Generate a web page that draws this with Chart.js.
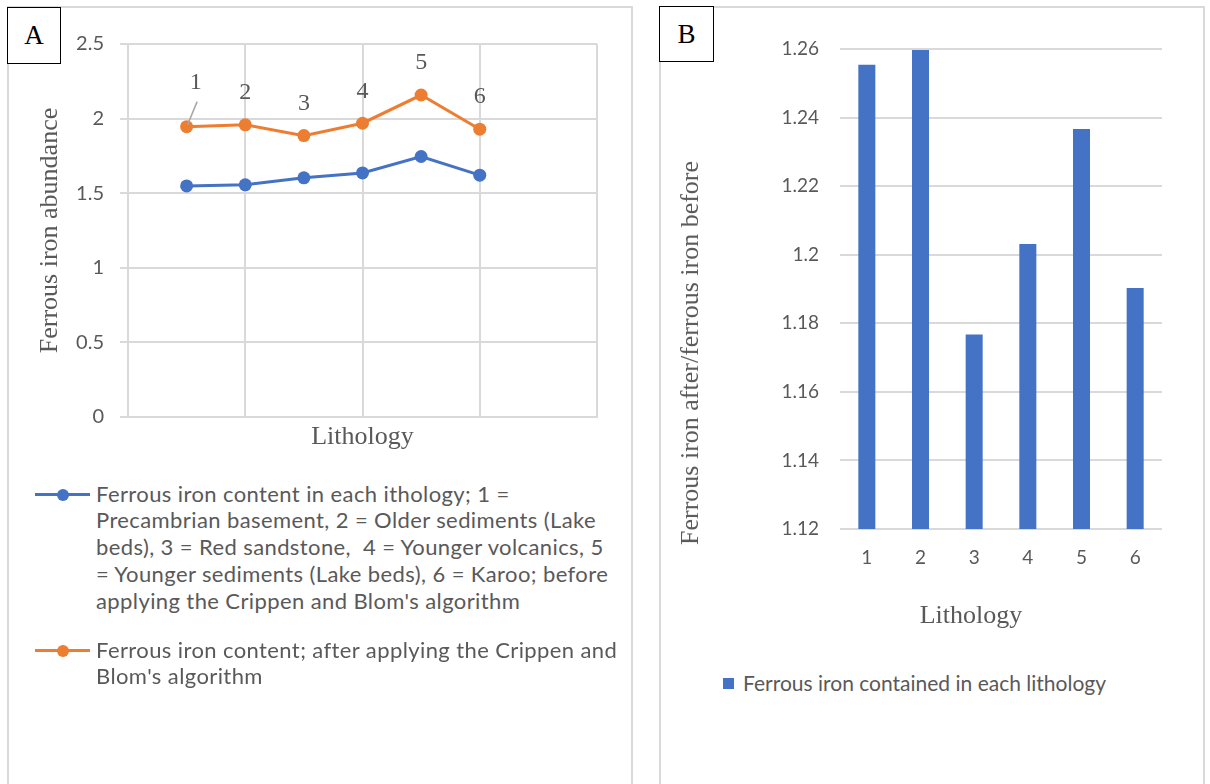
<!DOCTYPE html>
<html><head><meta charset="utf-8">
<script src="https://cdn.jsdelivr.net/npm/chart.js@4.4.1/dist/chart.umd.min.js"></script>
<style>
html,body{margin:0;padding:0;background:#fff;}
body{width:1210px;height:784px;overflow:hidden;position:relative;}
.frame{position:absolute;border:2px solid #d9d9d9;box-sizing:border-box;}
.tag{position:absolute;border:1.5px solid #000;background:#fff;box-sizing:border-box;font-family:"Liberation Serif",serif;font-size:27px;color:#000;display:flex;align-items:center;justify-content:center;z-index:3;}
canvas{position:absolute;}
.leg{position:absolute;font-family:Lato,sans-serif;color:#595959;white-space:nowrap;}
.sw-line{position:absolute;height:3px;}
.sw-dot{position:absolute;border-radius:50%;}
.sw-box{position:absolute;}
.ttl{position:absolute;font-family:"Liberation Serif",serif;font-size:26px;color:#595959;white-space:nowrap;transform:translate(-50%,-50%);}
</style></head>
<body>
<div class="frame" style="left:7px;top:6px;width:626px;height:800px"></div>
<div class="frame" style="left:659px;top:6px;width:546px;height:800px"></div>
<canvas id="ca" width="640" height="470" style="left:0;top:0;width:640px;height:470px"></canvas>
<canvas id="cb" width="560" height="650" style="left:650px;top:0;width:560px;height:650px"></canvas>
<div class="tag" style="left:7px;top:7px;width:54px;height:57px">A</div>
<div class="tag" style="left:659px;top:6px;width:55px;height:56px">B</div>

<div class="sw-line" style="left:35px;top:492.5px;width:55px;background:#4472C4"></div>
<div class="sw-dot" style="left:56.5px;top:488.5px;width:12px;height:12px;background:#4472C4"></div>
<div class="leg" id="legA1" style="left:96px;top:480.5px;font-size:22px;line-height:26.9px;letter-spacing:0.4px"></div>
<div class="sw-line" style="left:35px;top:648.5px;width:55px;background:#ED7D31"></div>
<div class="sw-dot" style="left:56.5px;top:644.5px;width:12px;height:12px;background:#ED7D31"></div>
<div class="leg" id="legA2" style="left:96px;top:636.5px;font-size:22px;line-height:26.9px;letter-spacing:0.4px"></div>

<div class="sw-box" style="left:723px;top:678px;width:11px;height:11px;background:#4472C4"></div>
<div class="leg" id="legB" style="left:743px;top:670px;font-size:21px;line-height:26px"></div>

<div class="ttl" id="bx" style="left:971px;top:615px"></div>
<div class="ttl" id="by" style="left:690px;top:353px;transform:translate(-50%,-50%) rotate(-90deg)"></div>

<script>
// ---- data ----
const lithology = [1, 2, 3, 4, 5, 6];
const pointLabels = ['1', '2', '3', '4', '5', '6'];
const ferrousBefore = [1.549, 1.556, 1.603, 1.636, 1.746, 1.621];
const ferrousAfter = [1.946, 1.958, 1.886, 1.969, 2.158, 1.929];
const ratioAfterBefore = [1.2554, 1.2597, 1.1767, 1.2031, 1.2367, 1.1903];
const yTicksA = [0, 0.5, 1, 1.5, 2, 2.5];
const xGridA = [0, 2, 4, 6, 8];
const yTicksB = [1.12, 1.14, 1.16, 1.18, 1.2, 1.22, 1.24, 1.26];
const legendBeforeLines = [
  'Ferrous iron content in each ithology; 1 =',
  'Precambrian basement, 2 = Older sediments (Lake',
  'beds), 3 = Red sandstone,\u00a0 4 = Younger volcanics, 5',
  '= Younger sediments (Lake beds), 6 = Karoo; before',
  "applying the Crippen and Blom's algorithm"
];
const legendAfterLines = [
  'Ferrous iron content; after applying the Crippen and',
  "Blom's algorithm"
];
const legendB = 'Ferrous iron contained in each lithology';
const titleAY = 'Ferrous iron abundance';
const titleAX = 'Lithology';
const titleBY = 'Ferrous iron after/ferrous iron before';
const titleBX = 'Lithology';

// ---- styles ----
const BLUE = '#4472C4', ORANGE = '#ED7D31', GRID = '#d9d9d9', TXT = '#595959';

function setLines(id, lines) {
  const el = document.getElementById(id);
  lines.forEach((t, i) => {
    if (i) el.appendChild(document.createElement('br'));
    el.appendChild(document.createTextNode(t));
  });
}
setLines('legA1', legendBeforeLines);
setLines('legA2', legendAfterLines);
setLines('legB', [legendB]);
document.getElementById('bx').textContent = titleBX;
document.getElementById('by').textContent = titleBY;

const pointLabelPlugin = {
  id: 'pointLabelPlugin',
  afterDatasetsDraw(chart) {
    const meta = chart.getDatasetMeta(1);
    const ctx = chart.ctx;
    ctx.save();
    ctx.font = '24px "Liberation Serif"';
    ctx.fillStyle = TXT;
    ctx.textAlign = 'center';
    ctx.textBaseline = 'middle';
    meta.data.forEach((pt, i) => {
      const lead = i === 0;
      const dx = lead ? 9 : 0, dy = lead ? -44 : -32;
      ctx.fillText(pointLabels[i], pt.x + dx, pt.y + dy);
      if (lead) {
        ctx.strokeStyle = '#a6a6a6';
        ctx.lineWidth = 1.5;
        ctx.beginPath();
        ctx.moveTo(pt.x + 10.5, pt.y - 25);
        ctx.lineTo(pt.x + 1, pt.y - 2);
        ctx.stroke();
      }
    });
    ctx.restore();
  }
};

const lineDs = (label, vals, color) => ({
  label,
  data: lithology.map((x, i) => ({ x, y: vals[i] })),
  borderColor: color,
  backgroundColor: color,
  showLine: true,
  borderWidth: 3,
  pointRadius: 6.5,
  pointHoverRadius: 6.5,
  pointBorderWidth: 0,
  tension: 0
});

new Chart(document.getElementById('ca'), {
  type: 'scatter',
  data: {
    datasets: [
      lineDs(legendBeforeLines.join(' '), ferrousBefore, BLUE),
      lineDs(legendAfterLines.join(' '), ferrousAfter, ORANGE)
    ]
  },
  options: {
    responsive: false, animation: false, events: [],
    layout: { padding: { top: 44, right: 43, left: 0, bottom: 0 } },
    plugins: { legend: { display: false }, tooltip: { enabled: false } },
    scales: {
      x: {
        type: 'linear', min: 0, max: 8,
        afterBuildTicks: s => { s.ticks = xGridA.map(v => ({ value: v })); },
        ticks: { display: false },
        grid: { color: GRID, lineWidth: 2, drawTicks: false },
        border: { color: GRID, width: 2 },
        afterFit: s => { s.height = 53; },
        title: { display: true, text: titleAX, color: TXT,
          font: { family: 'Liberation Serif', size: 26 }, padding: { top: 0, bottom: 17.4 } }
      },
      y: {
        min: 0, max: 2.5,
        afterBuildTicks: s => { s.ticks = yTicksA.map(v => ({ value: v })); },
        ticks: { color: TXT, font: { family: 'Lato', size: 20 }, padding: 16,
          callback: v => String(+(+v).toFixed(2)) },
        grid: { color: GRID, lineWidth: 2, tickLength: 8 },
        border: { color: GRID, width: 2 },
        afterFit: s => { s.width = 128; },
        title: { display: true, text: titleAY, color: TXT,
          font: { family: 'Liberation Serif', size: 26 }, padding: { top: 34.4, bottom: 0 } }
      }
    }
  },
  plugins: [pointLabelPlugin]
});

new Chart(document.getElementById('cb'), {
  type: 'bar',
  data: {
    labels: lithology.map(String),
    datasets: [{
      label: legendB,
      data: ratioAfterBefore,
      backgroundColor: BLUE,
      categoryPercentage: 1,
      barPercentage: 0.317
    }]
  },
  options: {
    responsive: false, animation: false, events: [],
    layout: { padding: { top: 49, right: 48, left: 0, bottom: 0 } },
    plugins: { legend: { display: false }, tooltip: { enabled: false } },
    scales: {
      x: {
        grid: { display: false, drawTicks: false },
        border: { display: false },
        ticks: { color: TXT, font: { family: 'Lato', size: 19 }, padding: 17.6 },
        afterFit: s => { s.height = 121; }
      },
      y: {
        min: 1.12, max: 1.26,
        afterBuildTicks: s => { s.ticks = yTicksB.map(v => ({ value: v })); },
        ticks: { color: TXT, font: { family: 'Lato', size: 19 }, padding: 21,
          callback: v => String(+(+v).toFixed(2)) },
        grid: { color: GRID, lineWidth: 2, drawTicks: false },
        border: { display: false },
        afterFit: s => { s.width = 190; }
      }
    }
  }
});
</script>
</body></html>
